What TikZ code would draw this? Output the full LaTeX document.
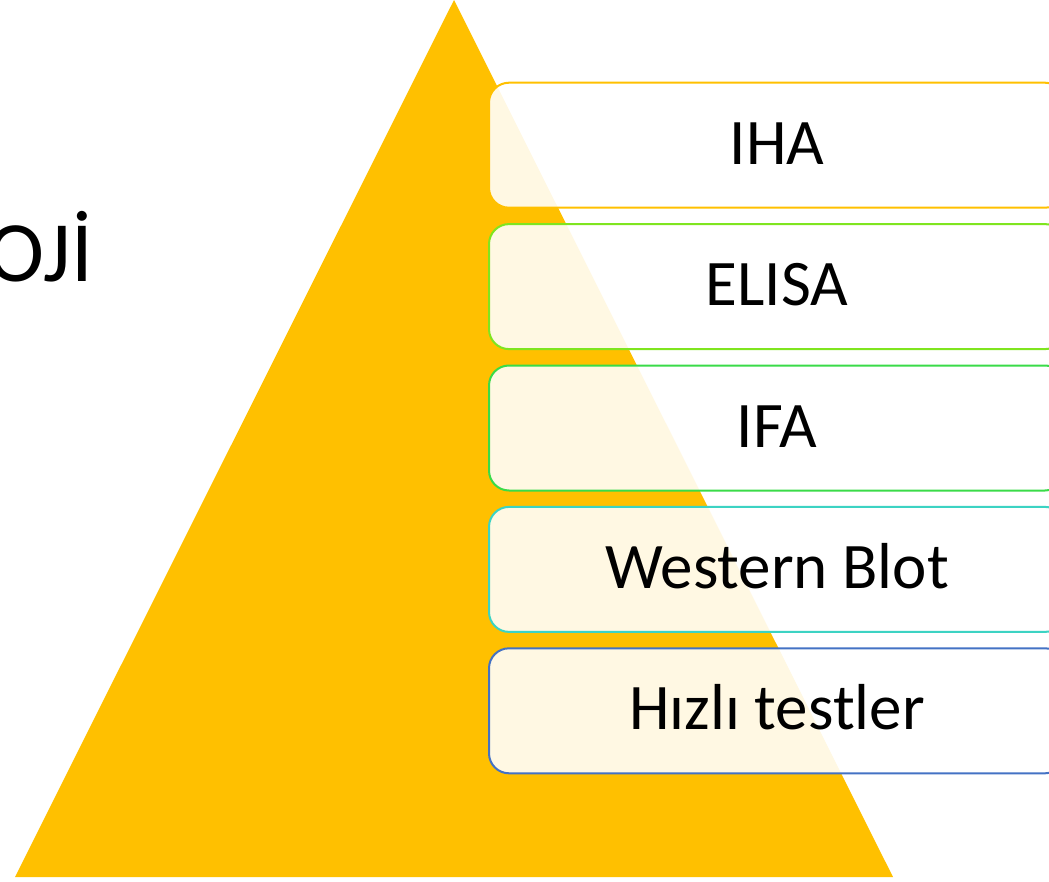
\documentclass[tikz,border=0pt]{standalone}
\usepackage{fontspec}
\setmainfont{Carlito}
\definecolor{pyr}{HTML}{FFC000}
\definecolor{c1}{HTML}{FFC000}
\definecolor{c2}{HTML}{7FE51F}
\definecolor{c3}{HTML}{3ADB48}
\definecolor{c4}{HTML}{3CD3C3}
\definecolor{c5}{HTML}{4472C4}
\begin{document}
\begin{tikzpicture}[x=1pt,y=-1pt,
  itembox/.style={draw=#1, line width=2pt, rounded corners=20pt, fill=white, fill opacity=0.89, draw opacity=1},
  itemtext/.style={anchor=base, inner sep=0pt, font=\fontsize{65}{78}\selectfont, text=black}]
\useasboundingbox (0,0) rectangle (1049,882);
\clip (0,0) rectangle (1049,882);
\fill[pyr] (454,0) -- (15,877) -- (893,877) -- cycle;
\node[anchor=base east, inner sep=0pt, font=\fontsize{86}{100}\selectfont] (title) at (93,281.5) {OJİ};
\foreach \i/\c/\t in {0/c1/IHA,1/c2/ELISA,2/c3/IFA,3/c4/Western Blot,4/c5/Hızlı testler}{
  \pgfmathsetmacro{\top}{82.7+141.4*\i}
  \path[itembox=\c] (489,\top) rectangle (1065,\top+125);
  \node[itemtext] (t\i) at (777,\top+81.5) {\t};
}
\end{tikzpicture}
\end{document}
